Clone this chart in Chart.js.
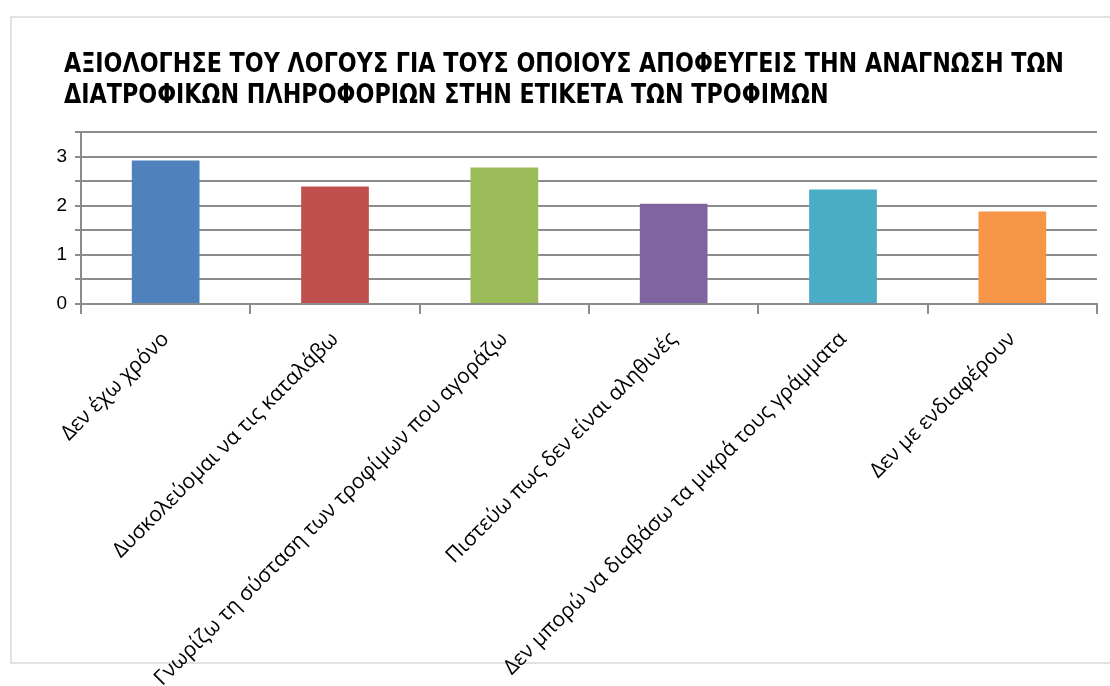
<!DOCTYPE html>
<html lang="el">
<head>
    <meta charset="UTF-8">
    <title>Λόγοι αποφυγής ανάγνωσης διατροφικών πληροφοριών</title>
    <script src="https://cdn.jsdelivr.net/npm/chart.js@4.4.1/dist/chart.umd.min.js"></script>
    <style>
        html, body {
            margin: 0;
            padding: 0;
            background: #ffffff;
        }
        .wrap {
            position: relative;
            width: 1110px;
            height: 686px;
        }
    </style>
</head>
<body>
    <div class="wrap">
        <canvas id="reasonsChart" width="1110" height="686"></canvas>
    </div>

    <script>
        const titleLines = [
            'ΑΞΙΟΛΟΓΗΣΕ ΤΟΥ ΛΟΓΟΥΣ ΓΙΑ ΤΟΥΣ ΟΠΟΙΟΥΣ ΑΠΟΦΕΥΓΕΙΣ ΤΗΝ ΑΝΑΓΝΩΣΗ ΤΩΝ',
            'ΔΙΑΤΡΟΦΙΚΩΝ ΠΛΗΡΟΦΟΡΙΩΝ ΣΤΗΝ ΕΤΙΚΕΤΑ ΤΩΝ ΤΡΟΦΙΜΩΝ'
        ];

        const reasons = [
            'Δεν έχω χρόνο',
            'Δυσκολεύομαι να τις καταλάβω',
            'Γνωρίζω τη σύσταση των τροφίμων που αγοράζω',
            'Πιστεύω πως δεν είναι αληθινές',
            'Δεν μπορώ να διαβάσω τα μικρά τους γράμματα',
            'Δεν με ενδιαφέρουν'
        ];

        const scores = [2.92, 2.39, 2.78, 2.04, 2.33, 1.88];

        const barColors = ['#4F81BD', '#C0504D', '#9BBB59', '#8064A2', '#4BACC6', '#F79646'];

        const gridColor = '#8c8c8c';

        // frame around the whole chart plus the two-line bold heading
        const frameAndTitle = {
            id: 'frameAndTitle',
            beforeDraw(chart) {
                const ctx = chart.ctx;
                ctx.save();
                ctx.strokeStyle = '#d9d9d9';
                ctx.lineWidth = 1.5;
                ctx.strokeRect(11, 17, 1120, 646);

                ctx.fillStyle = '#000000';
                ctx.font = 'bold 26px "Liberation Sans Narrow", "DejaVu Sans Condensed", sans-serif';
                ctx.textBaseline = 'alphabetic';
                ctx.textAlign = 'left';
                const fullWidth = 1000;
                const w = ctx.measureText(titleLines[0]).width;
                const sx = fullWidth / w;
                titleLines.forEach((line, i) => {
                    ctx.save();
                    ctx.translate(64, 72 + i * 31);
                    ctx.scale(sx, 1);
                    ctx.fillText(line, 0, 0);
                    ctx.restore();
                });
                ctx.restore();
            }
        };

        const ctx = document.getElementById('reasonsChart').getContext('2d');
        new Chart(ctx, {
            type: 'bar',
            data: {
                labels: reasons,
                datasets: [{
                    data: scores,
                    backgroundColor: barColors,
                    borderWidth: 0,
                    categoryPercentage: 1,
                    barPercentage: 0.4
                }]
            },
            options: {
                responsive: false,
                animation: false,
                devicePixelRatio: 1,
                layout: {
                    padding: { top: 132, right: 13, left: 0, bottom: 0 }
                },
                plugins: {
                    legend: { display: false },
                    title: { display: false },
                    tooltip: { enabled: false }
                },
                scales: {
                    x: {
                        offset: true,
                        grid: {
                            offset: true,
                            drawOnChartArea: false,
                            color: gridColor,
                            lineWidth: 2,
                            tickLength: 10
                        },
                        border: { color: gridColor, width: 2 },
                        ticks: {
                            minRotation: 45,
                            maxRotation: 45,
                            autoSkip: false,
                            padding: 13,
                            color: '#000000',
                            font: { family: '"Open Sans", "Noto Sans", sans-serif', size: 21 }
                        },
                        afterFit(scale) {
                            scale.height = 382;
                        }
                    },
                    y: {
                        min: 0,
                        max: 3.5,
                        grid: {
                            color: gridColor,
                            lineWidth: 2,
                            tickLength: 6
                        },
                        border: { color: gridColor, width: 2 },
                        ticks: {
                            stepSize: 0.5,
                            autoSkip: false,
                            padding: 8,
                            color: '#000000',
                            font: { family: '"Liberation Sans", Arial, sans-serif', size: 19 },
                            callback: (v) => (Number.isInteger(v) && v < 3.5 ? v : '')
                        },
                        afterFit(scale) {
                            scale.width = 81;
                        }
                    }
                }
            },
            plugins: [frameAndTitle]
        });
    </script>
</body>
</html>
